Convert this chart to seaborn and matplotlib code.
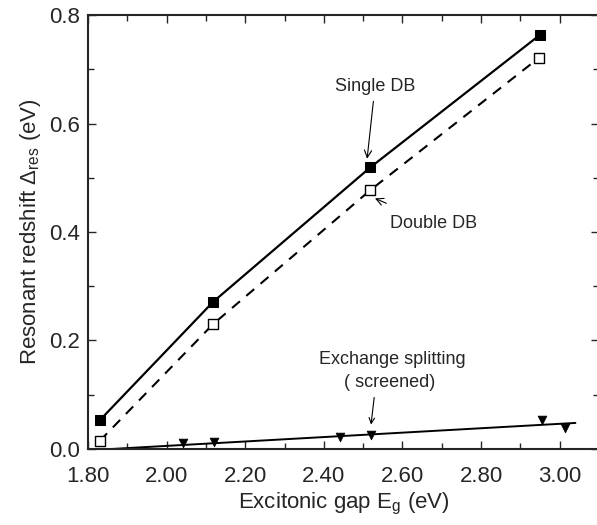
import matplotlib
matplotlib.use("Agg")
import matplotlib.pyplot as plt
from matplotlib.ticker import MultipleLocator, FormatStrFormatter
import seaborn as sns
import pandas as pd

# Data
gap_single = [1.83, 2.118, 2.518, 2.949]
shift_single = [0.053, 0.271, 0.519, 0.763]

gap_double = [1.83, 2.118, 2.518, 2.947]
shift_double = [0.015, 0.230, 0.477, 0.721]

gap_exch = [2.042, 2.120, 2.442, 2.521, 2.954, 3.013]
shift_exch = [0.011, 0.013, 0.022, 0.026, 0.053, 0.039]

fit_exch_x = [1.86, 3.04]
fit_exch_y = [0.0, 0.048]

sns.set_style("ticks")
plt.rcParams['font.family'] = ['Liberation Sans', 'DejaVu Sans']
plt.rcParams['mathtext.fontset'] = 'custom'
plt.rcParams['mathtext.rm'] = 'Liberation Sans'
plt.rcParams['mathtext.it'] = 'Liberation Sans'

fig = plt.figure(figsize=(5.97, 5.25), dpi=100)
ax = fig.add_axes([0.1474, 0.1448, 0.856, 0.8266])

df_s = pd.DataFrame({"x": gap_single, "y": shift_single})
df_d = pd.DataFrame({"x": gap_double, "y": shift_double})
df_e = pd.DataFrame({"x": gap_exch, "y": shift_exch})
df_f = pd.DataFrame({"x": fit_exch_x, "y": fit_exch_y})

sns.lineplot(data=df_s, x="x", y="y", ax=ax, color="black", lw=1.6,
             marker="s", markersize=6.5, markerfacecolor="black",
             markeredgecolor="black", sort=False)
sns.lineplot(data=df_d, x="x", y="y", ax=ax, color="black", lw=1.5,
             sort=False)
ax.lines[-1].set_dashes([5, 4])
sns.scatterplot(data=df_d, x="x", y="y", ax=ax, marker="s", s=55,
                facecolor="white", edgecolor="black", linewidth=1.0, zorder=3)
sns.lineplot(data=df_f, x="x", y="y", ax=ax, color="black", lw=1.4)
sns.scatterplot(data=df_e, x="x", y="y", ax=ax, marker="v", s=40,
                color="black", edgecolor="black", zorder=3)

ax.set_xlim(1.8, 3.1)
ax.set_ylim(0.0, 0.8)
ax.xaxis.set_major_locator(MultipleLocator(0.2))
ax.xaxis.set_minor_locator(MultipleLocator(0.1))
ax.yaxis.set_major_locator(MultipleLocator(0.2))
ax.yaxis.set_minor_locator(MultipleLocator(0.1))
ax.xaxis.set_major_formatter(FormatStrFormatter('%.2f'))
ax.yaxis.set_major_formatter(FormatStrFormatter('%.1f'))
ax.tick_params(which="both", direction="in", top=True, right=True,
               labelsize=16, width=1.0)
ax.tick_params(which="major", length=6)
ax.tick_params(axis="x", which="major", pad=12)
ax.tick_params(axis="y", which="major", pad=6)
ax.tick_params(which="minor", length=4)
for sp in ax.spines.values():
    sp.set_linewidth(1.5)

ax.set_xlabel(r"Excitonic gap E$_{\rm g}$ (eV)", fontsize=16, labelpad=3)
ax.set_ylabel(r"Resonant redshift $\Delta_{\rm res}$ (eV)", fontsize=16, labelpad=4)

ax.annotate("Single DB", xy=(2.51, 0.535), xytext=(2.53, 0.652),
            fontsize=13, ha="center", va="bottom",
            arrowprops=dict(arrowstyle="->", lw=0.8, color="black",
                            shrinkA=2, shrinkB=0))
ax.annotate("Double DB", xy=(2.53, 0.462), xytext=(2.68, 0.415),
            fontsize=13, ha="center", va="center",
            arrowprops=dict(arrowstyle="->", lw=0.8, color="black",
                            shrinkA=16, shrinkB=0))
ax.text(2.575, 0.165, "Exchange splitting", fontsize=13, ha="center", va="center")
ax.text(2.568, 0.123, "( screened)", fontsize=13, ha="center", va="center")
ax.annotate("", xy=(2.52, 0.045), xytext=(2.528, 0.095),
            arrowprops=dict(arrowstyle="->", lw=0.8, color="black",
                            shrinkA=0, shrinkB=0))

fig.savefig("out.png", dpi=100)
